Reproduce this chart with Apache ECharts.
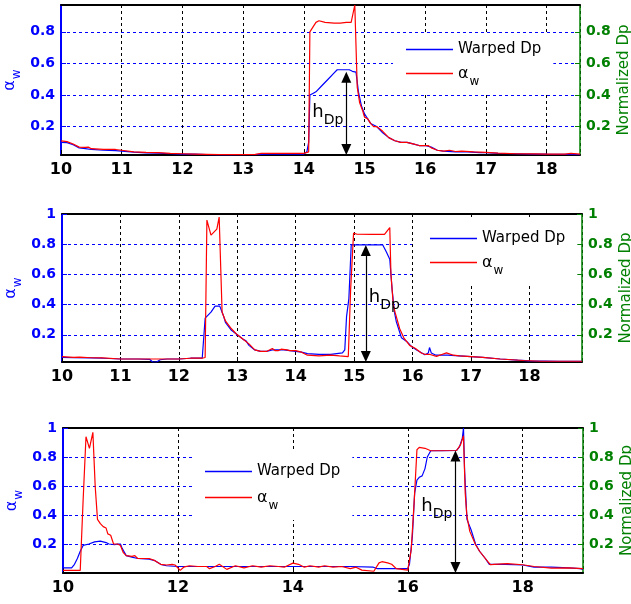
<!DOCTYPE html>
<html><head><meta charset="utf-8">
<script src="https://cdn.jsdelivr.net/npm/echarts@6/dist/echarts.min.js"></script>
<style>html,body{margin:0;padding:0;background:#fff}#c{width:631px;height:604px}</style>
</head><body><div id="c"></div>
<script>
// ---------- data ----------
const p1XLim = [10, 18.55], p1YLim = [0.02, 0.97], p1XStep = 1;
const p2XLim = [10, 18.9],  p2YLim = [0.02, 1.0],  p2XStep = 1;
const p3XLim = [10, 19.05], p3YLim = [0, 1.0],     p3XStep = 2;
const p1YTicks = [0.2, 0.4, 0.6, 0.8];
const p2YTicks = [0.2, 0.4, 0.6, 0.8, 1];
const p3YTicks = [0.2, 0.4, 0.6, 0.8, 1];

const p1Blue = [[10.0,0.10],[10.1,0.098],[10.2,0.085],[10.3,0.065],[10.4,0.06],[10.5,0.055],[10.7,0.05],[10.9,0.048],[11.0,0.045],[11.2,0.038],[11.4,0.033],[11.6,0.032],[11.8,0.028],[12.0,0.026],[12.2,0.025],[12.4,0.022],[12.6,0.021],[12.8,0.021],[13.0,0.022],[13.2,0.023],[13.4,0.025],[13.6,0.025],[13.8,0.025],[14.0,0.026],[14.05,0.04],[14.08,0.10],[14.1,0.40],[14.15,0.41],[14.2,0.42],[14.3,0.46],[14.4,0.50],[14.5,0.54],[14.55,0.56],[14.65,0.56],[14.75,0.56],[14.8,0.55],[14.86,0.545],[14.9,0.42],[14.95,0.33],[15.0,0.28],[15.05,0.25],[15.1,0.22],[15.2,0.2],[15.3,0.16],[15.4,0.13],[15.5,0.11],[15.6,0.10],[15.7,0.10],[15.8,0.09],[15.9,0.08],[16.0,0.08],[16.1,0.07],[16.2,0.05],[16.3,0.045],[16.5,0.04],[16.7,0.04],[16.9,0.035],[17.0,0.035],[17.2,0.03],[17.5,0.028],[17.8,0.026],[18.0,0.025],[18.3,0.024],[18.55,0.023]];
const p1Red = [[10.0,0.11],[10.1,0.105],[10.2,0.09],[10.3,0.07],[10.4,0.068],[10.45,0.07],[10.5,0.06],[10.7,0.055],[10.9,0.055],[11.0,0.05],[11.2,0.04],[11.4,0.037],[11.6,0.035],[11.8,0.03],[12.0,0.028],[12.2,0.026],[12.4,0.024],[12.6,0.022],[12.8,0.022],[13.0,0.022],[13.2,0.024],[13.3,0.03],[13.6,0.03],[13.8,0.03],[14.0,0.03],[14.08,0.04],[14.1,0.80],[14.2,0.86],[14.25,0.87],[14.35,0.86],[14.5,0.855],[14.6,0.855],[14.7,0.86],[14.78,0.86],[14.84,0.97],[14.88,0.45],[14.92,0.35],[14.97,0.3],[15.0,0.26],[15.05,0.25],[15.1,0.22],[15.15,0.2],[15.2,0.2],[15.3,0.17],[15.4,0.13],[15.5,0.11],[15.6,0.1],[15.7,0.1],[15.8,0.09],[15.9,0.08],[16.0,0.08],[16.05,0.08],[16.1,0.065],[16.2,0.05],[16.3,0.045],[16.4,0.05],[16.5,0.042],[16.6,0.045],[16.8,0.04],[17.0,0.037],[17.2,0.032],[17.5,0.028],[17.8,0.027],[18.0,0.026],[18.3,0.025],[18.4,0.03],[18.55,0.025]];

const p2Blue = [[10.0,0.05],[10.2,0.048],[10.5,0.047],[10.7,0.045],[11.0,0.04],[11.3,0.04],[11.5,0.038],[11.55,0.02],[11.62,0.02],[11.68,0.035],[11.8,0.04],[12.0,0.04],[12.2,0.045],[12.4,0.045],[12.45,0.31],[12.5,0.33],[12.55,0.35],[12.62,0.39],[12.7,0.39],[12.73,0.38],[12.76,0.33],[12.8,0.28],[12.9,0.23],[13.0,0.2],[13.1,0.17],[13.15,0.16],[13.2,0.13],[13.3,0.1],[13.4,0.09],[13.5,0.09],[13.6,0.1],[13.7,0.1],[13.8,0.1],[13.9,0.095],[14.0,0.09],[14.1,0.085],[14.2,0.075],[14.4,0.07],[14.6,0.07],[14.8,0.08],[14.84,0.1],[14.87,0.32],[14.91,0.44],[14.95,0.795],[15.2,0.795],[15.49,0.795],[15.55,0.75],[15.61,0.70],[15.65,0.5],[15.69,0.35],[15.72,0.29],[15.81,0.18],[15.9,0.156],[15.98,0.123],[16.07,0.1],[16.21,0.068],[16.27,0.08],[16.29,0.116],[16.32,0.08],[16.4,0.065],[16.6,0.065],[16.8,0.06],[17.0,0.055],[17.2,0.05],[17.5,0.04],[17.8,0.032],[18.0,0.028],[18.5,0.025],[18.9,0.025]];
const p2Red = [[10.0,0.055],[10.2,0.05],[10.3,0.052],[10.5,0.048],[10.7,0.047],[11.0,0.04],[11.5,0.04],[12.0,0.04],[12.2,0.045],[12.4,0.045],[12.45,0.05],[12.48,0.96],[12.55,0.86],[12.65,0.9],[12.69,0.98],[12.74,0.35],[12.8,0.29],[12.9,0.24],[13.0,0.2],[13.1,0.17],[13.2,0.14],[13.3,0.1],[13.4,0.09],[13.5,0.09],[13.6,0.11],[13.65,0.095],[13.7,0.095],[13.75,0.105],[13.85,0.1],[13.9,0.095],[14.0,0.095],[14.1,0.085],[14.2,0.065],[14.4,0.06],[14.6,0.065],[14.75,0.06],[14.9,0.056],[14.94,0.5],[14.99,0.873],[15.05,0.866],[15.3,0.865],[15.52,0.865],[15.61,0.91],[15.63,0.6],[15.67,0.4],[15.7,0.35],[15.78,0.24],[15.85,0.18],[15.95,0.13],[16.05,0.11],[16.15,0.08],[16.22,0.07],[16.3,0.07],[16.41,0.057],[16.5,0.07],[16.58,0.08],[16.7,0.065],[16.8,0.06],[17.0,0.055],[17.2,0.05],[17.5,0.04],[17.7,0.035],[17.9,0.03],[18.2,0.025],[18.5,0.025],[18.9,0.025]];

const p3Blue = [[10.0,0.035],[10.15,0.035],[10.2,0.06],[10.25,0.1],[10.3,0.15],[10.35,0.19],[10.45,0.2],[10.55,0.215],[10.65,0.22],[10.75,0.21],[10.8,0.2],[10.9,0.195],[10.95,0.2],[11.0,0.2],[11.03,0.17],[11.06,0.18],[11.1,0.12],[11.2,0.11],[11.3,0.1],[11.5,0.095],[11.6,0.085],[11.7,0.06],[11.8,0.05],[12.0,0.045],[12.5,0.045],[13.0,0.045],[13.5,0.045],[14.0,0.045],[14.5,0.045],[15.0,0.045],[15.4,0.04],[15.47,0.03],[16.0,0.03],[16.03,0.06],[16.08,0.25],[16.12,0.55],[16.16,0.64],[16.2,0.66],[16.25,0.67],[16.3,0.72],[16.34,0.8],[16.4,0.843],[16.6,0.843],[16.85,0.845],[16.9,0.87],[16.95,0.93],[16.97,1.0],[16.99,0.7],[17.03,0.37],[17.1,0.3],[17.18,0.2],[17.25,0.15],[17.35,0.1],[17.42,0.06],[17.5,0.06],[17.7,0.06],[18.0,0.055],[18.2,0.04],[18.5,0.04],[18.8,0.035],[19.0,0.03],[19.05,0.025]];
const p3Red = [[10.0,0.018],[10.3,0.018],[10.35,0.5],[10.4,0.94],[10.46,0.86],[10.52,0.97],[10.56,0.6],[10.6,0.37],[10.65,0.34],[10.7,0.32],[10.75,0.31],[10.78,0.27],[10.83,0.26],[10.88,0.2],[10.95,0.2],[11.0,0.19],[11.05,0.14],[11.1,0.12],[11.2,0.115],[11.25,0.12],[11.3,0.1],[11.5,0.1],[11.6,0.085],[11.7,0.06],[11.8,0.055],[11.9,0.06],[11.95,0.055],[12.04,0.018],[12.1,0.04],[12.2,0.05],[12.35,0.045],[12.5,0.045],[12.55,0.03],[12.65,0.045],[12.72,0.06],[12.85,0.025],[13.0,0.05],[13.15,0.035],[13.3,0.05],[13.45,0.04],[13.6,0.05],[13.75,0.045],[13.85,0.04],[14.0,0.068],[14.1,0.06],[14.2,0.04],[14.3,0.05],[14.45,0.04],[14.55,0.05],[14.7,0.04],[14.85,0.045],[15.0,0.03],[15.1,0.04],[15.2,0.02],[15.41,0.012],[15.5,0.07],[15.55,0.078],[15.65,0.07],[15.72,0.06],[15.8,0.03],[16.0,0.02],[16.06,0.16],[16.11,0.48],[16.16,0.85],[16.2,0.866],[16.3,0.86],[16.4,0.843],[16.85,0.845],[16.92,0.885],[16.97,0.947],[17.0,0.55],[17.03,0.39],[17.08,0.287],[17.18,0.195],[17.25,0.15],[17.39,0.08],[17.44,0.057],[17.5,0.06],[17.73,0.064],[18.0,0.057],[18.2,0.045],[18.5,0.034],[18.8,0.035],[19.05,0.03]];

// annotation arrows (h_Dp): x position, top value
const arrowX = [14.70, 15.20, 16.83];
const arrowTop = [0.548, 0.795, 0.845];
const hLabelY = [0.27, 0.43, 0.44];
const hLabelSide = ['left', 'right', 'left'];

const seriesNames = ['Warped Dp', 'aw'];

// ---------- layout ----------
const FONT = 'DejaVu Sans';
const BLUE = '#0000ff', RED = '#ff0000', GREEN = '#008000';
const grids = [
  {left: 61, top: 5,   width: 519, height: 150},
  {left: 62, top: 214, width: 520, height: 148},
  {left: 63, top: 428, width: 520, height: 145}
];
const legendPos = [
  {left: 393, top: 33, padding: [9, 12, 6, 7], gap: 9},
  {left: 416, top: 220, padding: [11, 12, 8, 8], gap: 9},
  {left: 193, top: 452, padding: [12, 12, 8, 6], gap: 11}
];
const panels = [
  {xl: p1XLim, yl: p1YLim, xs: p1XStep, yt: p1YTicks, blue: p1Blue, red: p1Red},
  {xl: p2XLim, yl: p2YLim, xs: p2XStep, yt: p2YTicks, blue: p2Blue, red: p2Red},
  {xl: p3XLim, yl: p3YLim, xs: p3XStep, yt: p3YTicks, blue: p3Blue, red: p3Red}
];

const xAxis = [], yAxis = [], series = [], legend = [];
const legendRich = {
  l1: {width: 47, height: 1.5, backgroundColor: BLUE, verticalAlign: 'middle'},
  l2: {width: 47, height: 1.5, backgroundColor: RED, verticalAlign: 'middle'},
  t: {fontFamily: FONT, fontSize: 15, color: '#000', verticalAlign: 'middle', padding: [0, 0, 0, 5]},
  a: {fontFamily: FONT, fontSize: 16, color: '#000', verticalAlign: 'top', padding: [7, 0, 0, 5]},
  s: {fontFamily: FONT, fontSize: 12, color: '#000', verticalAlign: 'top', padding: [17, 0, 0, 1]}
};
const yLabelStyle = {fontFamily: FONT, fontSize: 14, fontWeight: 'bold', margin: 6};

panels.forEach((p, i) => {
  const g = grids[i];
  xAxis.push({
    type: 'value', gridIndex: i, position: 'bottom', min: p.xl[0], max: p.xl[1], interval: p.xs,
    axisLine: {show: true, onZero: false, lineStyle: {color: '#000', width: 2}},
    axisTick: {show: true, inside: true, length: 5, lineStyle: {color: '#000'}},
    axisLabel: {show: true, color: '#000', fontFamily: FONT, fontSize: 16, fontWeight: 'bold', margin: 7, showMaxLabel: false,
      formatter: v => String(v)},
    splitLine: {show: true, lineStyle: {color: '#000', type: [3, 3], width: 1}}
  });
  xAxis.push({
    type: 'value', gridIndex: i, position: 'top', min: p.xl[0], max: p.xl[1], interval: p.xs,
    axisLine: {show: true, onZero: false, lineStyle: {color: '#000', width: 2}},
    axisTick: {show: false}, axisLabel: {show: false}, splitLine: {show: false}
  });
  yAxis.push({
    type: 'value', gridIndex: i, position: 'left', min: p.yl[0], max: p.yl[1],
    name: '{a|α}{s|w}', nameLocation: 'middle', nameGap: 38, nameRotate: 90, nameMoveOverlap: false,
    nameTextStyle: {color: BLUE, rich: {
      a: {color: BLUE, fontFamily: FONT, fontSize: 16, verticalAlign: 'top', padding: [0, 0, 0, 0]},
      s: {color: BLUE, fontFamily: FONT, fontSize: 12, verticalAlign: 'top', padding: [9, 0, 0, 1]}}},
    axisLine: {show: true, onZero: false, lineStyle: {color: BLUE, width: 2}},
    axisTick: {show: true, inside: true, length: 5, customValues: p.yt, lineStyle: {color: BLUE}},
    axisLabel: Object.assign({color: BLUE, customValues: p.yt, formatter: v => String(+(+v).toFixed(2))}, yLabelStyle),
    splitLine: {show: true, lineStyle: {color: BLUE, type: [3, 3], width: 1}}
  });
  yAxis.push({
    type: 'value', gridIndex: i, position: 'right', min: p.yl[0], max: p.yl[1],
    name: 'Normalized Dp', nameLocation: 'middle', nameGap: 37, nameRotate: 90, nameMoveOverlap: false,
    nameTextStyle: {color: GREEN, fontFamily: FONT, fontSize: 15},
    axisLine: {show: true, onZero: false, lineStyle: {color: GREEN, width: 1.5}},
    axisTick: {show: true, inside: true, length: 5, customValues: p.yt, lineStyle: {color: GREEN}},
    axisLabel: Object.assign({color: GREEN, customValues: p.yt, formatter: v => String(+(+v).toFixed(2))}, yLabelStyle),
    splitLine: {show: false}
  });

  const pxPerUnit = g.height / (p.yl[1] - p.yl[0]);
  const half = 5.5 / pxPerUnit;
  series.push({
    name: seriesNames[0], type: 'line', xAxisIndex: 2 * i, yAxisIndex: 2 * i,
    data: p.blue, symbol: 'none', showSymbol: false, animation: false,
    lineStyle: {color: BLUE, width: 1.2}, itemStyle: {color: BLUE}, z: 3
  });
  series.push({
    name: seriesNames[1], type: 'line', xAxisIndex: 2 * i, yAxisIndex: 2 * i,
    data: p.red, symbol: 'none', showSymbol: false, animation: false,
    lineStyle: {color: RED, width: 1.2}, itemStyle: {color: RED}, z: 4
  });
  // annotation carrier (no data of its own): h_Dp double arrow + label
  series.push({
    name: 'hDp' + i, type: 'line', xAxisIndex: 2 * i, yAxisIndex: 2 * i, data: [],
    symbol: 'none', animation: false, z: 5,
    markLine: {
      silent: true, animation: false, symbol: ['triangle', 'triangle'], symbolSize: [10, 11],
      lineStyle: {color: '#000', type: 'solid', width: 1.2}, itemStyle: {color: '#000'},
      label: {show: false},
      data: [[{coord: [arrowX[i], arrowTop[i] - half]}, {coord: [arrowX[i], p.yl[0] + half]}]]
    },
    markPoint: {
      silent: true, animation: false, symbol: 'circle', symbolSize: 0,
      label: {show: true, position: hLabelSide[i], distance: 3, color: '#000', formatter: '{h|h}{s|Dp}',
        rich: {
          h: {fontFamily: FONT, fontSize: 18, color: '#000', verticalAlign: 'top', padding: [0, 0, 0, 0]},
          s: {fontFamily: FONT, fontSize: 14, color: '#000', verticalAlign: 'top', padding: [10, 0, 0, 0]}}},
      data: [{coord: [arrowX[i], hLabelY[i]]}]
    }
  });

  const lp = legendPos[i];
  legend.push({
    orient: 'vertical', left: lp.left, top: lp.top, padding: lp.padding,
    backgroundColor: '#fff', itemWidth: 1, itemHeight: 14, itemGap: lp.gap,
    data: [{name: seriesNames[0], icon: 'none'}, {name: seriesNames[1], icon: 'none'}],
    selectedMode: false,
    formatter: n => n === 'aw' ? '{l2|}{a|α}{s|w}' : '{l1|}{t|Warped Dp}',
    textStyle: {fontFamily: FONT, fontSize: 15, color: '#000', rich: legendRich}
  });
});

const chart = echarts.init(document.getElementById('c'), null, {renderer: 'canvas'});
chart.setOption({
  animation: false,
  backgroundColor: '#fff',
  grid: grids.map(g => Object.assign({containLabel: false, outerBoundsMode: 'none'}, g)),
  xAxis, yAxis, series, legend
});
</script>
</body></html>
